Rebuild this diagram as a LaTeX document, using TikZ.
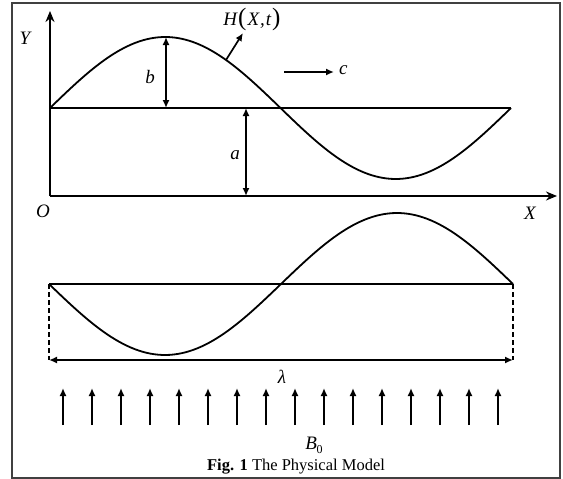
\documentclass[tikz,border=0pt]{standalone}
\usepackage{fontspec}
\setmainfont{Liberation Serif}
\usetikzlibrary{arrows.meta}
\begin{document}
\begin{tikzpicture}[x=1pt,y=-1pt,
  lbl/.style={font=\fontsize{19}{19}\selectfont\itshape, inner sep=0pt},
  axis/.style={line width=2.2pt, -{Stealth[length=11pt,width=9pt]}},
  wave/.style={line width=1.8pt},
  mid/.style={line width=1.2pt},
  dim/.style={line width=1.7pt, {Latex[length=8pt,width=7pt]}-{Latex[length=8pt,width=7pt]}},
  sarrow/.style={line width=1.7pt, -{Latex[length=8pt,width=7pt]}},
  dashline/.style={line width=1.4pt, dash pattern=on 5pt off 3pt}]
\useasboundingbox (0,0) rectangle (563,479);
\draw[line width=2pt, black!75] (12,3) rectangle (560,477.5);
% upper part
\coordinate (O) at (50,196);
\coordinate (Ytop) at (50,11);
\coordinate (Xend) at (557,196);
\draw[axis] (O) -- (Ytop);
\draw[axis] (O) -- (Xend);
\coordinate (m1a) at (50,108);
\coordinate (m1b) at (511,108);
\draw[mid] (m1a) -- (m1b);
\draw[wave] plot[domain=0:461, samples=120] ({50+\x}, {108-71*sin(\x/461*360)});
\coordinate (bt) at (166,37);
\coordinate (bb) at (166,108);
\draw[dim] (bt) -- (bb);
\coordinate (at) at (246,108);
\coordinate (ab) at (246,196);
\draw[dim] (at) -- (ab);
\node[lbl] (Ylab) at (25,38) {Y};
\node[lbl] (Olab) at (43,211) {O};
\node[lbl] (Xlab) at (530,213) {X};
\node[lbl] (blab) at (150,77) {b};
\node[lbl] (alab) at (235,155) {a};
\node[lbl, anchor=west] (clab) at (339,70) {c};
\coordinate (cs) at (284,72);
\coordinate (ce) at (334,72);
\draw[sarrow] (cs) -- (ce);
\node[lbl] (Hlab) at (252,19) {H\kern1pt{\fontsize{25}{25}\selectfont\upshape(}\kern1pt X\kern1pt,\kern1pt t\kern1pt{\fontsize{25}{25}\selectfont\upshape)}};
\coordinate (hs) at (226,60);
\coordinate (he) at (243,33);
\draw[sarrow] (hs) -- (he);
% lower part
\coordinate (m2a) at (49,284);
\coordinate (m2b) at (513,284);
\draw[mid] (m2a) -- (m2b);
\draw[wave] plot[domain=0:464, samples=120] ({49+\x}, {284+71*sin(\x/464*360)});
\coordinate (d1) at (49,360);
\coordinate (d2) at (513,360);
\draw[dashline] (m2a) -- (d1);
\draw[dashline] (m2b) -- (d2);
\draw[dim] (d1) -- (d2);
\node[lbl] (lam) at (282,377) {λ};
\foreach \i in {0,...,15} {
  \coordinate (fb\i) at ({63+29*\i},425);
  \coordinate (ft\i) at ({63+29*\i},388);
  \draw[sarrow] (fb\i) -- (ft\i);
}
\node[lbl] (B0) at (314,445) {B\kern-0.5pt\raisebox{-4pt}{\fontsize{12}{12}\selectfont\upshape 0}};
\node[font=\fontsize{16.5}{16.5}\selectfont, inner sep=0pt] (cap) at (296,467) {\textbf{Fig. 1} The Physical Model};
\end{tikzpicture}
\end{document}
